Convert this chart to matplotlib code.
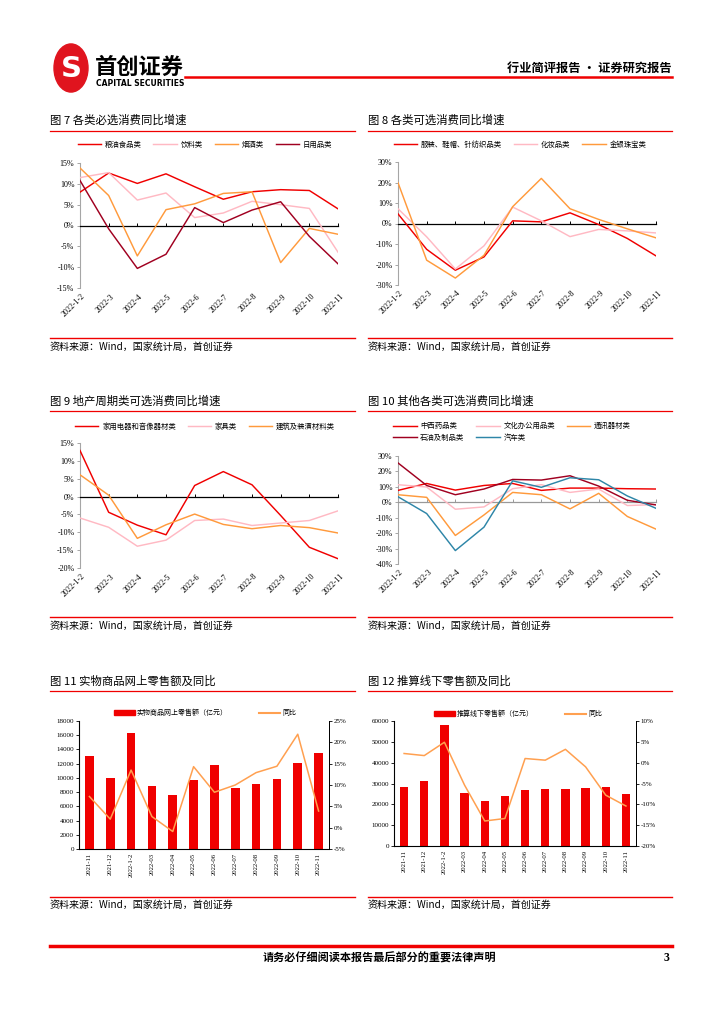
import matplotlib
matplotlib.use('Agg')
import matplotlib.pyplot as plt
from matplotlib.patches import Circle, Rectangle
from matplotlib.lines import Line2D
from matplotlib.ticker import FuncFormatter
from matplotlib.transforms import blended_transform_factory
import numpy as np

plt.rcParams['font.family'] = ['Noto Sans CJK SC', 'DejaVu Sans']
plt.rcParams['axes.unicode_minus'] = False

# ---------------- data ----------------
months = ['2022-1-2', '2022-3', '2022-4', '2022-5', '2022-6', '2022-7',
          '2022-8', '2022-9', '2022-10', '2022-11']

# Fig 7
f7_names = ['粮油食品类', '饮料类', '烟酒类', '日用品类']
f7_grain = [8.0, 12.6, 10.1, 12.4, 9.3, 6.3, 8.1, 8.6, 8.4, 4.0]
f7_drink = [11.5, 12.7, 6.1, 7.8, 1.9, 3.0, 5.8, 5.0, 4.1, -6.4]
f7_tobacco = [13.8, 7.2, -7.3, 3.8, 5.2, 7.7, 8.1, -8.9, -0.7, -2.1]
f7_daily = [10.8, -0.8, -10.3, -6.9, 4.3, 0.7, 3.7, 5.7, -2.6, -9.2]

# Fig 8
f8_names = ['服装、鞋帽、针纺织品类', '化妆品类', '金银珠宝类']
f8_cloth = [4.7, -12.6, -22.8, -16.3, 1.3, 0.8, 5.2, -0.5, -7.3, -15.8]
f8_cosm = [7.2, -6.5, -22.2, -10.9, 8.0, 1.3, -6.4, -2.9, -3.6, -4.6]
f8_gold = [19.9, -17.9, -26.6, -15.5, 8.2, 22.0, 7.2, 2.0, -2.6, -7.0]

# Fig 9
f9_names = ['家用电器和音像器材类', '家具类', '建筑及装潢材料类']
f9_appl = [12.9, -4.4, -8.0, -10.7, 3.1, 7.0, 3.3, -5.3, -14.2, -17.4]
f9_furn = [-6.0, -8.6, -13.9, -12.2, -6.7, -6.3, -8.1, -7.4, -6.7, -4.0]
f9_build = [6.1, 0.4, -11.7, -7.9, -4.9, -7.8, -9.0, -8.1, -8.7, -10.2]

# Fig 10
f10_names = ['中西药品类', '文化办公用品类', '通讯器材类', '石油及制品类', '汽车类']
f10_med = [7.7, 12.2, 7.9, 10.9, 12.2, 7.7, 9.2, 9.2, 8.8, 8.6]
f10_office = [11.4, 9.9, -4.5, -3.0, 8.8, 11.4, 6.4, 8.6, -2.1, -1.5]
f10_comm = [4.9, 3.2, -21.5, -8.2, 6.4, 4.9, -4.3, 5.8, -9.2, -17.4]
f10_oil = [25.5, 10.9, 4.9, 8.6, 14.8, 14.4, 17.2, 10.5, 1.3, -1.7]
f10_auto = [3.6, -7.3, -31.3, -16.1, 13.9, 9.7, 15.9, 14.6, 4.1, -3.9]

# Fig 11 / 12
bar_months = ['2021-11', '2021-12', '2022-1-2', '2022-03', '2022-04', '2022-05',
              '2022-06', '2022-07', '2022-08', '2022-09', '2022-10', '2022-11']
f11_online = [13040, 9960, 16270, 8880, 7620, 9770, 11780, 8600, 9160, 9870, 12110, 13510]
f11_yoy = [7.3, 2.0, 13.5, 2.6, -0.9, 14.3, 8.3, 10.0, 12.9, 14.4, 21.9, 3.9]
f12_offline = [28090, 31120, 57930, 25370, 21540, 23780, 26810, 27290, 27130, 27770, 28250, 24890]
f12_yoy = [2.2, 1.7, 4.9, -5.4, -14.0, -13.4, 1.0, 0.6, 3.2, -1.0, -7.8, -10.4]

# ---------------- figure ----------------
W, H = 724, 1024
fig = plt.figure(figsize=(7.24, 10.24), dpi=100)
RED = '#F00000'
PINK = '#FFB9C3'
ORANGE = '#FF9A3C'
DARKRED = '#A00020'
BLUE = '#2E86A8'
GRAY = '#A6A6A6'
SERIF = ['Liberation Serif', 'Noto Sans CJK SC']


def box(x0, y0, x1, y1):
    return [x0 / W, 1 - y1 / H, (x1 - x0) / W, (y1 - y0) / H]


def fx(x):
    return x / W


def fy(y):
    return 1 - y / H


def hline(y, x0, x1, lw=1.0, color=RED):
    fig.add_artist(Line2D([fx(x0), fx(x1)], [fy(y), fy(y)], color=color, lw=lw,
                          transform=fig.transFigure))


def line_chart(pos, series, colors, names, ylim, ystep, zero_color, leg_xy, ncol, order=None):
    ax = fig.add_axes(box(*pos))
    x = np.arange(len(months))
    handles = []
    for vals, c, n in zip(series, colors, names):
        h, = ax.plot(x, vals, color=c, lw=1.05, label=n, zorder=3)
        handles.append(h)
    ax.set_xlim(0, len(months) - 1)
    ax.set_ylim(*ylim)
    ax.set_yticks(np.arange(ylim[0], ylim[1] + 0.1, ystep))
    ax.yaxis.set_major_formatter(FuncFormatter(lambda v, p: f'{v:.0f}%'))
    for lab in ax.get_yticklabels():
        lab.set_family(SERIF)
    for s in ['top', 'right']:
        ax.spines[s].set_visible(False)
    ax.spines['left'].set_linewidth(0.8)
    ax.spines['left'].set_color(GRAY)
    ax.spines['bottom'].set_position(('data', 0))
    ax.spines['bottom'].set_color(zero_color)
    ax.spines['bottom'].set_linewidth(0.9)
    ax.tick_params(axis='y', direction='out', length=2.5, width=0.7, color=GRAY,
                   labelsize=5.8, pad=1.5)
    ax.set_xticks(x)
    ax.tick_params(axis='x', direction='in', length=2.5, width=0.7, color=zero_color,
                   labelbottom=False)
    tr = blended_transform_factory(ax.transData, ax.transAxes)
    for i, lab in enumerate(months):
        ax.text(i + 0.05, -0.035, lab, transform=tr, rotation=45, ha='right', va='top',
                rotation_mode='anchor', fontsize=5.8, family=SERIF)
    if order is not None:
        handles = [handles[k] for k in order]
    ax.legend(handles, [h.get_label() for h in handles], loc='center',
              bbox_to_anchor=(fx(leg_xy[0]), fy(leg_xy[1])),
              bbox_transform=fig.transFigure, ncol=ncol, frameon=False,
              fontsize=5.3, handlelength=3.2, handletextpad=0.5, columnspacing=1.6,
              labelspacing=0.5, borderpad=0)
    return ax


def bar_chart(pos, bars, yoy, bar_name, line_name, lylim, lstep, rylim, rstep, leg_xy):
    ax = fig.add_axes(box(*pos))
    x = np.arange(len(bar_months))
    ax.bar(x, bars, width=0.42, color=RED, zorder=2)
    ax.set_xlim(-0.5, len(bar_months) - 0.5)
    ax.set_ylim(*lylim)
    ax.set_yticks(np.arange(lylim[0], lylim[1] + 1, lstep))
    ax.set_xticks(x)
    ax.set_xticklabels(bar_months, rotation=90, fontsize=4.8, family=SERIF)
    ax.tick_params(axis='x', length=0, pad=3)
    ax.tick_params(axis='y', direction='out', length=2.5, width=0.6, labelsize=5, pad=1)
    for lab in ax.get_yticklabels():
        lab.set_family(SERIF)
    ax.spines['top'].set_visible(False)
    for s in ['left', 'bottom', 'right']:
        ax.spines[s].set_linewidth(0.7)
    ax2 = ax.twinx()
    ax2.plot(x, yoy, color='#FFA050', lw=1.1, zorder=3)
    ax2.set_ylim(*rylim)
    ax2.set_yticks(np.arange(rylim[0], rylim[1] + 0.1, rstep))
    ax2.yaxis.set_major_formatter(FuncFormatter(lambda v, p: f'{v:.0f}%'))
    ax2.tick_params(axis='y', direction='out', length=2.5, width=0.6, labelsize=5, pad=1)
    for lab in ax2.get_yticklabels():
        lab.set_family(SERIF)
    ax2.spines['top'].set_visible(False)
    ax2.spines['right'].set_linewidth(0.7)
    handles = [Rectangle((0, 0), 1, 1, color=RED), Line2D([0], [0], color='#FFA050', lw=1.5)]
    ax.legend(handles, [bar_name, line_name], loc='center',
              bbox_to_anchor=(fx(leg_xy[0]), fy(leg_xy[1])), bbox_transform=fig.transFigure,
              ncol=2, frameon=False, fontsize=5, handlelength=3.0, handleheight=0.6,
              handletextpad=0.3, columnspacing=4.5, borderpad=0)
    return ax


# ---------------- header ----------------
fig.add_artist(Circle((fx(71), fy(68)), 17 / W, color='#E0141E', transform=fig.transFigure))
fig.text(fx(71), fy(69), 'S', color='white', fontsize=21, fontweight='bold',
         ha='center', va='center', family='DejaVu Sans')
fig.text(fx(95), fy(67), '首创证券', fontsize=16, fontweight='bold', ha='left', va='center')
fig.text(fx(96), fy(84), 'CAPITAL SECURITIES', fontsize=5.5, fontweight='bold', ha='left',
         va='center', family='DejaVu Sans')
hline(77, 185, 672, lw=1.8)
fig.text(fx(672), fy(68), '行业简评报告 · 证券研究报告', fontsize=8.8, fontweight='bold',
         ha='right', va='center')

# ---------------- section titles / rules ----------------
titles = [('图 7 各类必选消费同比增速', '图 8 各类可选消费同比增速', 120, 131, 338, 347),
          ('图 9 地产周期类可选消费同比增速', '图 10 其他各类可选消费同比增速', 401, 411, 617, 626),
          ('图 11 实物商品网上零售额及同比', '图 12 推算线下零售额及同比', 681, 691, 897, 905)]
src = '资料来源：Wind，国家统计局，首创证券'
for lt, rt, ty, ly, sy, sty in titles:
    fig.text(fx(50), fy(ty), lt, fontsize=8.2, ha='left', va='center')
    fig.text(fx(368), fy(ty), rt, fontsize=8.2, ha='left', va='center')
    hline(ly, 50, 355, lw=0.9)
    hline(ly, 368, 672, lw=0.9)
    hline(sy, 50, 355, lw=1.0)
    hline(sy, 368, 672, lw=1.0)
    fig.text(fx(50), fy(sty), src, fontsize=7.2, ha='left', va='center', style='italic')
    fig.text(fx(368), fy(sty), src, fontsize=7.2, ha='left', va='center', style='italic')

# ---------------- charts ----------------
line_chart((80, 163, 338, 288), [f7_grain, f7_drink, f7_tobacco, f7_daily],
           [RED, PINK, ORANGE, DARKRED], f7_names, (-15, 15), 5, 'black', (205, 145), 4)
line_chart((398, 162, 656, 285), [f8_cloth, f8_cosm, f8_gold],
           [RED, PINK, ORANGE], f8_names, (-30, 30), 10, 'black', (520, 145), 3)
line_chart((80, 443, 338, 568), [f9_appl, f9_furn, f9_build],
           [RED, PINK, ORANGE], f9_names, (-20, 15), 5, 'black', (205, 427), 3)
line_chart((398, 456, 656, 564), [f10_med, f10_office, f10_comm, f10_oil, f10_auto],
           [RED, PINK, ORANGE, DARKRED, BLUE], f10_names, (-40, 30), 10, '#999999',
           (512, 432), 3, order=[0, 3, 1, 4, 2])

bar_chart((79, 721, 329, 849), f11_online, f11_yoy, '实物商品网上零售额（亿元）', '同比',
          (0, 18000), 2000, (-5, 25), 5, (205, 713))
bar_chart((394, 721, 636, 846), f12_offline, f12_yoy, '推算线下零售额（亿元）', '同比',
          (0, 60000), 10000, (-20, 10), 5, (518, 714))

# ---------------- footer ----------------
hline(946, 50, 672, lw=2.5)
fig.text(fx(379), fy(958), '请务必仔细阅读本报告最后部分的重要法律声明', fontsize=8,
         fontweight='bold', ha='center', va='center')
fig.text(fx(669), fy(958), '3', fontsize=8.5, fontweight='bold', ha='right', va='center',
         family='Liberation Serif')

fig.savefig('out.png', dpi=100)
